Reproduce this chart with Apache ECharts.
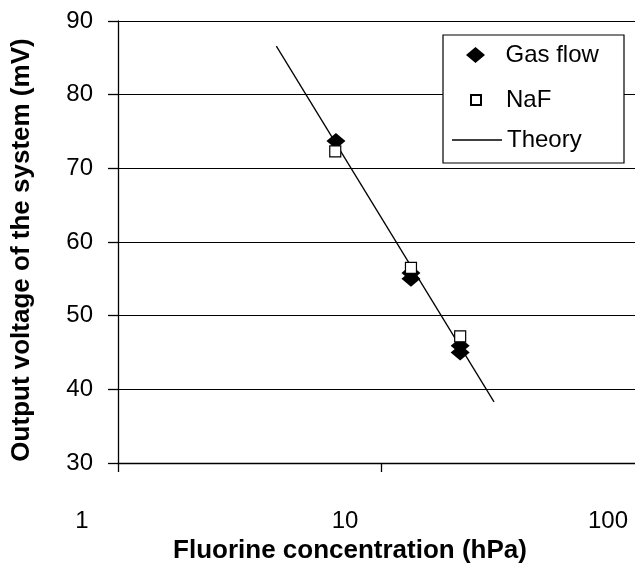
<!DOCTYPE html>
<html>
<head>
<meta charset="utf-8">
<script src="https://cdn.jsdelivr.net/npm/echarts@6/dist/echarts.min.js"></script>
<style>html,body{margin:0;padding:0;background:#fff;}#chart{width:635px;height:563px;}</style>
</head>
<body>
<div id="chart"></div>
<script>
// Data
var xTickLabels = ['1', '10', '100'];
var yTickLabels = ['30', '40', '50', '60', '70', '80', '90'];
var gasFlowX = [6.74, 13.0, 13.0, 20.0, 20.0];
var gasFlowY = [73.7, 55.8, 55.0, 45.9, 45.0];
var nafX = [6.7, 13.0, 20.0];
var nafY = [72.3, 56.5, 47.2];
var theoryX = [4.0, 26.9];
var theoryY = [86.6, 38.3];
var seriesNames = ['Gas flow', 'NaF', 'Theory'];
var xTitle = 'Fluorine concentration (hPa)';
var yTitle = 'Output voltage of the system (mV)';

function pairs(xs, ys) { return xs.map(function (x, i) { return [x, ys[i]]; }); }

var FONT = 'Liberation Sans, Arial, sans-serif';
var chart = echarts.init(document.getElementById('chart'), null, { renderer: 'canvas' });
var diamondPath = 'path://M9.5,0L19,8L9.5,16L0,8Z';
var squarePath = 'path://M0,0H10V10H0Z';
var legendText = { fontFamily: FONT, fontSize: 24, color: '#000' };

chart.setOption({
  animation: false,
  backgroundColor: '#fff',
  grid: { left: 118, top: 21, width: 526, height: 442, containLabel: false, outerBoundsMode: 'none' },
  xAxis: {
    type: 'log', logBase: 10, min: 1, max: 100,
    name: xTitle, nameLocation: 'middle', nameGap: 74,
    nameTextStyle: { fontFamily: FONT, fontSize: 26, fontWeight: 'bold', color: '#000', padding: [0, 62, 0, 0] },
    axisLine: { show: true, lineStyle: { color: '#000', width: 1.3 } },
    axisTick: { show: true, inside: false, length: 9, lineStyle: { color: '#000', width: 1.3 } },
    minorTick: { show: false },
    splitLine: { show: false },
    axisLabel: {
      fontFamily: FONT, fontSize: 24, color: '#000', margin: 46, padding: [0, 72, 0, 0],
      formatter: function (v) { var i = Math.round(Math.log10(v)); return xTickLabels[i]; }
    }
  },
  yAxis: {
    type: 'value', min: 30, max: 90, interval: 10,
    name: yTitle, nameLocation: 'middle', nameRotate: 90, nameGap: 83,
    nameTextStyle: { fontFamily: FONT, fontSize: 26, fontWeight: 'bold', color: '#000', padding: [0, 16, 0, 0] },
    axisLine: { show: true, lineStyle: { color: '#000', width: 1.3 } },
    axisTick: { show: true, inside: false, length: 10, lineStyle: { color: '#000', width: 1.3 } },
    splitLine: { show: true, lineStyle: { color: '#000', width: 1.2 } },
    axisLabel: {
      fontFamily: FONT, fontSize: 24, color: '#000', margin: 25,
      formatter: function (v) { return yTickLabels[Math.round((v - 30) / 10)]; }
    }
  },
  graphic: [{
    type: 'rect', z: 3,
    shape: { x: 443, y: 35, width: 181, height: 128 },
    style: { fill: '#fff', stroke: '#000', lineWidth: 1.2 }
  }],
  legend: [
    { data: [{ name: seriesNames[0], icon: diamondPath }], left: 466, top: 43, padding: 0, itemWidth: 50, itemHeight: 16,
      textStyle: legendText, selectedMode: false, z: 5 },
    { data: [{ name: seriesNames[1], icon: squarePath }], left: 470, top: 88, padding: 0, itemWidth: 50, itemHeight: 10,
      textStyle: legendText, selectedMode: false, z: 5 },
    { data: [{ name: seriesNames[2], icon: 'rect', itemStyle: { color: '#000' } }], left: 452, top: 128, padding: 0, itemWidth: 50, itemHeight: 1.5,
      textStyle: legendText, selectedMode: false, z: 5 }
  ],
  series: [
    {
      name: seriesNames[2], type: 'line', data: pairs(theoryX, theoryY),
      showSymbol: false, symbol: 'none', z: 1,
      lineStyle: { color: '#000', width: 1.3 }, itemStyle: { color: '#000' }
    },
    {
      name: seriesNames[0], type: 'scatter', data: pairs(gasFlowX, gasFlowY),
      symbol: 'diamond', symbolSize: [19, 16], z: 2,
      itemStyle: { color: '#000', opacity: 1 }
    },
    {
      name: seriesNames[1], type: 'scatter', data: pairs(nafX, nafY),
      symbol: 'rect', symbolSize: 11, z: 3,
      itemStyle: { color: '#fff', borderColor: '#000', borderWidth: 1.2, opacity: 1 }
    }
  ]
});
</script>
</body>
</html>
